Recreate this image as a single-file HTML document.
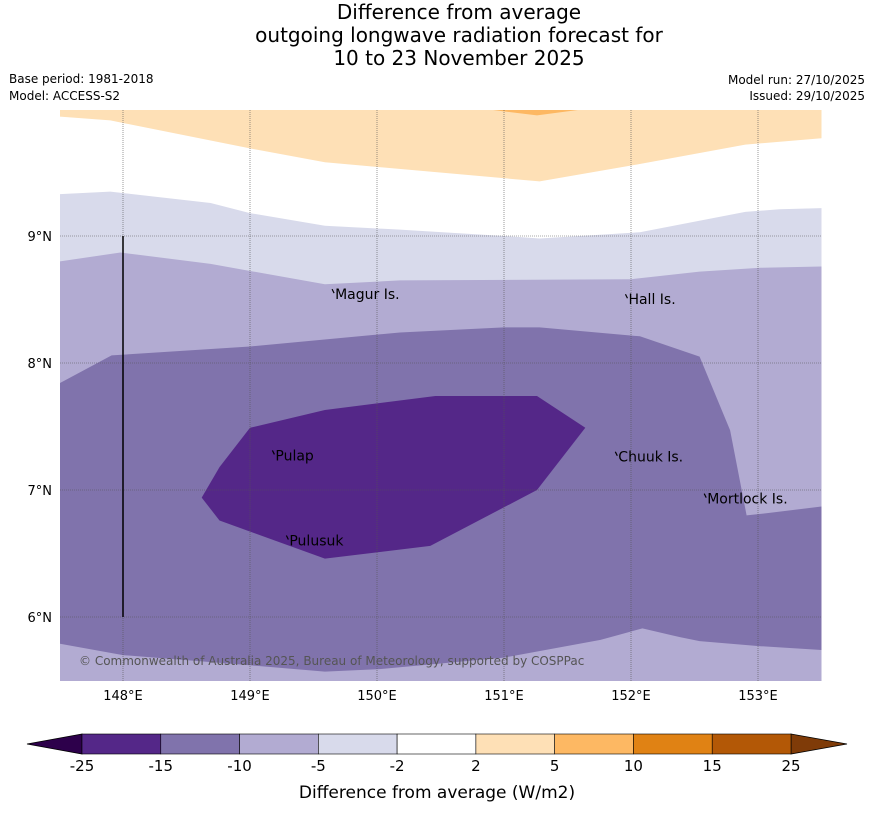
<!DOCTYPE html>
<html><head><meta charset="utf-8"><style>
body{margin:0;background:#fff;width:873px;height:816px;overflow:hidden;font-family:"DejaVu Sans","Liberation Sans",sans-serif}
</style></head><body>
<svg id="chart" width="873" height="816" xmlns="http://www.w3.org/2000/svg" font-family="DejaVu Sans, Liberation Sans, sans-serif">
<g text-anchor="middle" font-size="20" fill="#000">
<text x="459" y="19">Difference from average</text>
<text x="459" y="42">outgoing longwave radiation forecast for</text>
<text x="459" y="65">10 to 23 November 2025</text>
</g>
<g font-size="12" fill="#000">
<text x="9" y="83">Base period: 1981-2018</text>
<text x="9" y="100">Model: ACCESS-S2</text>
<text x="865" y="84" text-anchor="end">Model run: 27/10/2025</text>
<text x="865" y="100" text-anchor="end">Issued: 29/10/2025</text>
</g>
<defs><clipPath id="mapclip"><rect x="60" y="110" width="762" height="571"/></clipPath></defs>
<g id="map" clip-path="url(#mapclip)"></g>
<g id="axes"></g>
<g id="cbar"></g>
<text x="437" y="798" text-anchor="middle" font-size="17">Difference from average (W/m2)</text>
</svg>
<script>
const lonTicks=[148,149,150,151,152,153];
const latTicks=[6,7,8,9];
const levels=[-25,-15,-10,-5,-2,2,5,10,15,25];
const levelColors=['#542788','#8073ac','#b2abd2','#d8daeb','#ffffff','#fee0b6','#fdb863','#e08214','#b35806'];
// contour region boundaries [lon,lat]
const orangeEdge=[[147.5,9.94],[147.9,9.91],[149.0,9.69],[149.59,9.58],[151.28,9.43],[152.03,9.56],[152.9,9.72],[153.5,9.77]];
const orange2=[[150.85,10.0],[151.26,9.95],[151.64,10.0]];
const lav1Edge=[[147.5,9.33],[147.9,9.35],[148.69,9.26],[149.0,9.18],[149.59,9.08],[150.18,9.05],[151.0,9.0],[151.28,8.98],[152.07,9.03],[152.9,9.19],[153.17,9.21],[153.5,9.22]];
const lav2Edge=[[147.5,8.8],[147.98,8.87],[148.69,8.78],[149.59,8.62],[150.18,8.65],[152.0,8.66],[152.54,8.72],[153.02,8.75],[153.5,8.76]];
const mid=[[147.5,7.84],[147.91,8.06],[149.0,8.13],[150.18,8.24],[151.0,8.28],[151.28,8.28],[152.07,8.21],[152.54,8.05],[152.78,7.47],[152.91,6.8],[153.09,6.82],[153.5,6.87],[153.5,5.74],[153.02,5.77],[152.54,5.81],[152.39,5.84],[152.09,5.91],[151.76,5.82],[151.0,5.68],[150.02,5.59],[149.59,5.57],[149.0,5.62],[148.0,5.7],[147.5,5.79]];
const inner=[[149.0,7.49],[149.59,7.63],[150.46,7.74],[151.26,7.74],[151.64,7.49],[151.26,7.0],[150.42,6.56],[149.59,6.46],[148.76,6.76],[148.62,6.94],[148.76,7.18]];
const islands=[{n:'Magur Is.',lon:149.67,lat:8.55},{n:'Hall Is.',lon:151.98,lat:8.51},{n:'Pulap',lon:149.2,lat:7.28},{n:'Chuuk Is.',lon:151.9,lat:7.27},{n:'Mortlock Is.',lon:152.6,lat:6.94},{n:'Pulusuk',lon:149.31,lat:6.61}];
const meridian=[[148,9],[148,6]];

const X=lon=>123+(lon-148)*127;
const Y=lat=>236-(lat-9)*127;
const NS='http://www.w3.org/2000/svg';
function mk(tag,attrs,parent){const e=document.createElementNS(NS,tag);for(const k in attrs)e.setAttribute(k,attrs[k]);parent.appendChild(e);return e;}
const map=document.getElementById('map');
const pts=a=>a.map(p=>X(p[0]).toFixed(1)+','+Y(p[1]).toFixed(1)).join(' ');
let r=mk('rect',{x:60,y:110,width:762,height:571,fill:'#fff'},map);


function area(edge,bottomLat,color,name,top){
  const poly=top?[[edge[0][0],10.2],...edge,[edge[edge.length-1][0],10.2]]:[[edge[0][0],bottomLat],...edge,[edge[edge.length-1][0],bottomLat]];
  const p=mk('polygon',{points:pts(poly),fill:color},map);
  
  
}
area(orangeEdge,0,levelColors[5],'region-2-to-5',true);
let o2=mk('polygon',{points:pts([[orange2[0][0],10.2],...orange2,[orange2[2][0],10.2]]),fill:levelColors[6]},map);


area(lav1Edge,5.3,levelColors[3],'region-minus5-to-minus2',false);
area(lav2Edge,5.3,levelColors[2],'region-minus10-to-minus5',false);
let m=mk('polygon',{points:pts(mid),fill:levelColors[1]},map);


let inn=mk('polygon',{points:pts(inner),fill:levelColors[0]},map);


// gridlines
lonTicks.forEach(l=>{const g=mk('line',{x1:X(l),x2:X(l),y1:110,y2:681,stroke:'#555',"stroke-width":0.6,"stroke-dasharray":'1,1'},map);

});
latTicks.forEach(l=>{const g=mk('line',{x1:60,x2:822,y1:Y(l),y2:Y(l),stroke:'#555',"stroke-width":0.6,"stroke-dasharray":'1,1'},map);

});
let ml=mk('line',{x1:X(meridian[0][0]),x2:X(meridian[1][0]),y1:Y(meridian[0][1]),y2:Y(meridian[1][1]),stroke:'#000',"stroke-width":1.5},map);


islands.forEach(s=>{
  const d=mk('path',{d:`M${X(s.lon)-3},${Y(s.lat)-4} l2,4`,stroke:'#000',"stroke-width":1.2,fill:'none'},map);
  
  
  const t=mk('text',{x:X(s.lon),y:Y(s.lat)+6,"font-size":14,fill:'#000'},map);
  t.textContent=s.n;
  
  
});
const cp=mk('text',{x:79,y:665,"font-size":12,fill:'#555'},map);
cp.textContent='© Commonwealth of Australia 2025, Bureau of Meteorology, supported by COSPPac';


// axes labels
const axes=document.getElementById('axes');
lonTicks.forEach(l=>{const t=mk('text',{x:X(l),y:700,"text-anchor":'middle',"font-size":13},axes);t.textContent=l+'°E';

});
latTicks.forEach(l=>{const t=mk('text',{x:52,y:Y(l)+5,"text-anchor":'end',"font-size":13},axes);t.textContent=l+'°N';

});
// colorbar
const cb=document.getElementById('cbar');
const cx0=82,cx1=791,cy=734,ch=20,seg=(cx1-cx0)/levelColors.length;
let lt=mk('polygon',{points:`${cx0},${cy} 27,${cy+ch/2} ${cx0},${cy+ch}`,fill:'#2d004b',stroke:'#000',"stroke-width":0.8},cb);


let rt=mk('polygon',{points:`${cx1},${cy} 847,${cy+ch/2} ${cx1},${cy+ch}`,fill:'#7f3b08',stroke:'#000',"stroke-width":0.8},cb);


levelColors.forEach((c,i)=>{const s=mk('rect',{x:cx0+i*seg,y:cy,width:seg,height:ch,fill:c,stroke:'#000',"stroke-width":0.6},cb);

});
levels.forEach((v,i)=>{const t=mk('text',{x:cx0+i*seg,y:771,"text-anchor":'middle',"font-size":15},cb);t.textContent=v;

});
</script>
</body></html>
